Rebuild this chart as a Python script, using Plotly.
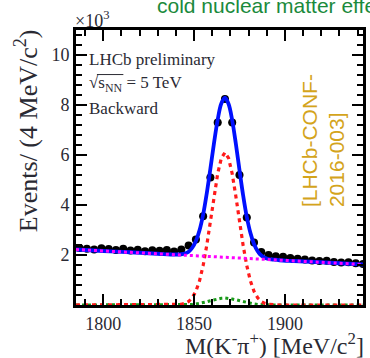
import plotly.graph_objects as go

# D0 -> K- pi+ candidates, 4 MeV bins (counts in units of 10^3)
bin_centers = [1787, 1791, 1795, 1799, 1803, 1807, 1811, 1815, 1819, 1823,
               1827, 1831, 1835, 1839, 1843, 1847, 1851, 1855, 1859, 1863,
               1867, 1871, 1875, 1879, 1883, 1887, 1891, 1895, 1899, 1903,
               1907, 1911, 1915, 1919, 1923, 1927, 1931, 1935, 1939, 1943]
events = [2.28, 2.25, 2.22, 2.27, 2.24, 2.20, 2.25, 2.18, 2.21, 2.15,
          2.19, 2.17, 2.20, 2.14, 2.22, 2.38, 2.62, 3.55, 5.10, 7.30,
          8.24, 7.30, 5.20, 3.50, 2.50, 2.12, 2.00, 1.95, 1.93, 1.88,
          1.85, 1.82, 1.78, 1.76, 1.77, 1.72, 1.70, 1.71, 1.67, 1.64]

# fit components, sampled along the mass axis
fit_mass = [1785, 1800, 1815, 1830,
            1837, 1839, 1841, 1843, 1845, 1847, 1849, 1851, 1853, 1855,
            1857, 1859, 1861, 1863, 1865, 1867, 1869, 1871, 1873, 1875,
            1877, 1879, 1881, 1883, 1885, 1887, 1889, 1891, 1893, 1895, 1897,
            1905, 1920, 1943]
fit_total = [2.22, 2.16, 2.11, 2.05,
             2.02, 2.02, 2.02, 2.03, 2.06, 2.13, 2.29, 2.56, 2.99, 3.62,
             4.47, 5.46, 6.49, 7.41, 8.06, 8.29, 8.04, 7.38, 6.45, 5.40,
             4.39, 3.53, 2.89, 2.44, 2.15, 1.98, 1.89, 1.84, 1.82, 1.81, 1.79,
             1.76, 1.71, 1.62]
fit_signal = [0, 0, 0, 0,
              0.0, 0.004, 0.011, 0.027, 0.065, 0.14, 0.29, 0.55, 0.97, 1.58,
              2.39, 3.35, 4.35, 5.25, 5.87, 6.10, 5.87, 5.25, 4.35, 3.35,
              2.39, 1.58, 0.97, 0.55, 0.29, 0.14, 0.065, 0.027, 0.011, 0.004, 0.0,
              0, 0, 0]
fit_secondary = [0, 0, 0, 0,
                 0, 0, 0, 0, 0, 0.01, 0.02, 0.04, 0.06, 0.09,
                 0.13, 0.17, 0.21, 0.24, 0.27, 0.28, 0.27, 0.24, 0.21, 0.17,
                 0.13, 0.09, 0.06, 0.04, 0.02, 0.01, 0, 0, 0, 0, 0,
                 0, 0, 0]
bkg_mass = [1785, 1943]
bkg_level = [2.22, 1.62]

x_range = [1785, 1943]
y_range = [0, 11]
x_ticks = [1800, 1850, 1900]
y_ticks = [2, 4, 6, 8, 10]

SERIF = "Liberation Serif"
SANS = "Liberation Sans"
TXT = "#2a2a33"

fig = go.Figure()

fig.add_trace(go.Scatter(
    x=bin_centers, y=events, mode="markers",
    marker=dict(color="black", size=8, symbol="circle"),
    error_x=dict(type="constant", value=2, color="black", thickness=2, width=0),
    showlegend=False))

fig.add_trace(go.Scatter(
    x=fit_mass, y=fit_secondary, mode="lines",
    line=dict(color="#1a9a1a", width=3, dash="3px,3px"), showlegend=False))
fig.add_trace(go.Scatter(
    x=fit_mass, y=fit_signal, mode="lines",
    line=dict(color="#ff1a1a", width=3.2, dash="4px,4px"), showlegend=False))
fig.add_trace(go.Scatter(
    x=fit_mass, y=fit_total, mode="lines", line_shape="spline",
    line=dict(color="#0010ff", width=3.8), showlegend=False))
fig.add_trace(go.Scatter(
    x=bkg_mass, y=bkg_level, mode="lines",
    line=dict(color="#ff00ff", width=3, dash="3px,3px"), showlegend=False))

axis_common = dict(
    showline=True, linecolor="black", linewidth=2.8, mirror="allticks",
    ticks="inside", tickcolor="black", tickwidth=2, ticklen=11,
    showgrid=False, zeroline=False,
    tickfont=dict(family=SERIF, size=18, color=TXT))

fig.update_xaxes(range=x_range, tickvals=x_ticks,
                 minor=dict(ticks="inside", dtick=10, tick0=1800, ticklen=6,
                            tickwidth=2, tickcolor="black"),
                 **axis_common)
fig.update_yaxes(range=y_range, tickvals=y_ticks,
                 minor=dict(ticks="inside", dtick=0.4, tick0=0, ticklen=6,
                            tickwidth=2, tickcolor="black"),
                 **axis_common)

annotations = [
    dict(text="Events/ (4 MeV/c<sup>2</sup>)", textangle=-90,
         xref="paper", yref="paper", x=-0.17, y=0.633,
         xanchor="center", yanchor="middle", showarrow=False,
         font=dict(family=SERIF, size=26, color=TXT)),
    dict(text="M(K<sup>-</sup>π<sup>+</sup>) [MeV/c<sup>2</sup>]",
         xref="paper", yref="paper", x=1.012, y=-0.142,
         xanchor="right", yanchor="middle", showarrow=False,
         font=dict(family=SERIF, size=24, color=TXT)),
    dict(text="×10<sup>3</sup>", xref="paper", yref="paper", x=-0.01, y=1.038,
         xanchor="left", yanchor="middle", showarrow=False,
         font=dict(family=SERIF, size=18, color=TXT)),
    dict(text="LHCb preliminary", xref="paper", yref="paper", x=0.04, y=0.893,
         xanchor="left", yanchor="middle", showarrow=False,
         font=dict(family=SERIF, size=17, color=TXT)),
    dict(text="√s<sub>NN</sub> = 5 TeV", xref="paper", yref="paper", x=0.04, y=0.805,
         xanchor="left", yanchor="middle", showarrow=False,
         font=dict(family=SERIF, size=17, color=TXT)),
    dict(text="Backward", xref="paper", yref="paper", x=0.04, y=0.715,
         xanchor="left", yanchor="middle", showarrow=False,
         font=dict(family=SERIF, size=17, color=TXT)),
    dict(text="[LHCb-CONF-<br>2016-003]", textangle=-90, align="left",
         xref="paper", yref="paper", x=0.86, y=0.35,
         xanchor="center", yanchor="bottom", showarrow=False,
         font=dict(family=SANS, size=21, color="#d4a41c")),
    dict(text="cold nuclear matter effects", xref="paper", yref="paper",
         x=0.275, y=1.04, xanchor="left", yanchor="bottom", showarrow=False,
         font=dict(family=SANS, size=21, color="#1b8a3c")),
]

# overbar of the square root in the energy label
shapes = [dict(type="line", xref="paper", yref="paper",
               x0=0.073, x1=0.165, y0=0.838, y1=0.838,
               line=dict(color=TXT, width=1))]

fig.update_layout(
    width=370, height=358,
    margin=dict(l=76, r=4, t=30, b=53),
    paper_bgcolor="white", plot_bgcolor="white",
    annotations=annotations, shapes=shapes)

fig.write_html("out.html")
